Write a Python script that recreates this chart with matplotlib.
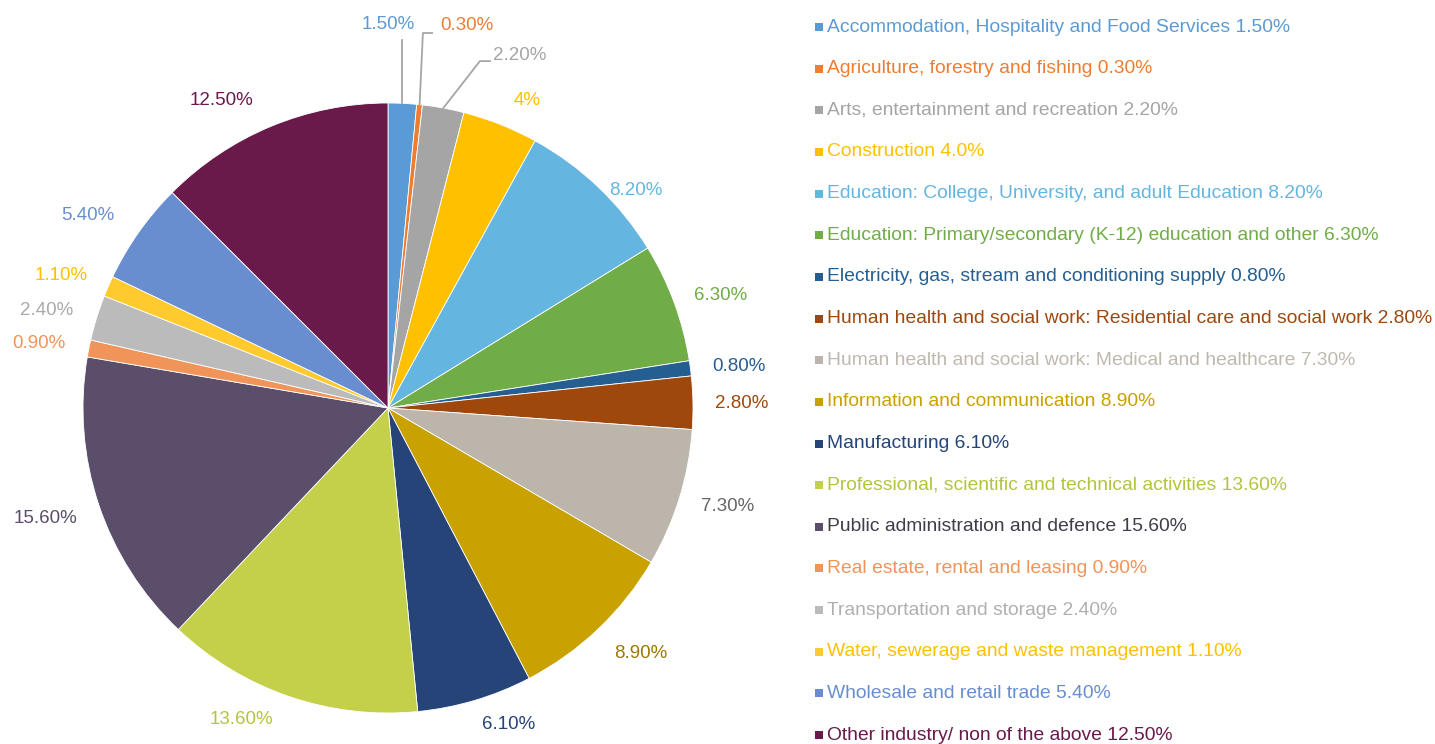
import numpy as np
import matplotlib
matplotlib.use("Agg")
import matplotlib.pyplot as plt

plt.rcParams['font.family'] = ['Liberation Sans', 'DejaVu Sans']

categories = [
    "Accommodation, Hospitality and Food Services",
    "Agriculture, forestry and fishing",
    "Arts, entertainment and recreation",
    "Construction",
    "Education: College, University, and adult Education",
    "Education: Primary/secondary (K-12) education and other",
    "Electricity, gas, stream and conditioning supply",
    "Human health and social work: Residential care and social work",
    "Human health and social work: Medical and healthcare",
    "Information and communication",
    "Manufacturing",
    "Professional, scientific and technical activities",
    "Public administration and defence",
    "Real estate, rental and leasing",
    "Transportation and storage",
    "Water, sewerage and waste management",
    "Wholesale and retail trade",
    "Other industry/ non of the above",
]
values = [1.5, 0.3, 2.2, 4.0, 8.2, 6.3, 0.8, 2.8, 7.3, 8.9, 6.1, 13.6, 15.6, 0.9, 2.4, 1.1, 5.4, 12.5]
pie_labels = ["1.50%", "0.30%", "2.20%", "4%", "8.20%", "6.30%", "0.80%", "2.80%", "7.30%",
              "8.90%", "6.10%", "13.60%", "15.60%", "0.90%", "2.40%", "1.10%", "5.40%", "12.50%"]
legend_values = ["1.50%", "0.30%", "2.20%", "4.0%", "8.20%", "6.30%", "0.80%", "2.80%", "7.30%",
                 "8.90%", "6.10%", "13.60%", "15.60%", "0.90%", "2.40%", "1.10%", "5.40%", "12.50%"]

colors = ["#5B9BD5", "#ED7D31", "#A5A5A5", "#FFC000", "#64B6E0", "#70AD47", "#255E91", "#9E480E",
          "#BBB5AC", "#C9A100", "#264478", "#C4D04A", "#5A4E6B", "#F0945A", "#BBBBBB", "#FFCA2E",
          "#698ED0", "#6A1A4A"]
label_colors = ["#5B9BD5", "#ED7D31", "#A5A5A5", "#FFC000", "#64B6E0", "#70AD47", "#255E91", "#9E480E",
                "#666666", "#9A7A00", "#264478", "#B4C440", "#5A4E6B", "#F0945A", "#AAAAAA", "#FFC000",
                "#698ED0", "#6A1A4A"]
legend_text_colors = ["#5B9BD5", "#ED7D31", "#A5A5A5", "#FFC000", "#64B6E0", "#70AD47", "#255E91", "#9E480E",
                      "#BFB9B0", "#C9A100", "#264478", "#B4C440", "#3F3D4A", "#F0945A", "#B0B0B0", "#FFC000",
                      "#698ED0", "#6A1A4A"]

# label placement: polar angle (deg) and distance (in radii) for each data label
label_angles = [90.0, 82.27, 73.43, 65.7, 41.3, 18.7, 6.8, 0.8, -16.2, -44.1, -69.1, -115.2,
                -162.1, 169.6, 164.0, 158.0, 147.4, 118.4]
label_dist = [1.256, 1.267, 1.2075, 1.108, 1.08, 1.15, 1.16, 1.16, 1.16, 1.155, 1.11, 1.13,
              1.18, 1.165, 1.165, 1.157, 1.17, 1.145]

W, H = 1435, 744
fig = plt.figure(figsize=(W / 100, H / 100), dpi=100)

# pie axes: centre at (388, 408) px from top-left, radius 305 px
R = 305.0
cx, cy = 388.0, H - 408.0
axw = 776.0
ax = fig.add_axes([0, 0, axw / W, 1])

wedges, _ = ax.pie(values, colors=colors, startangle=90, counterclock=False,
                   radius=1.0, wedgeprops=dict(edgecolor="white", linewidth=0.6))
ax.set_xlim(-cx / R, (axw - cx) / R)
ax.set_ylim(-cy / R, (H - cy) / R)
ax.set_aspect('auto')
ax.axis('off')

total = sum(values)
cum = np.cumsum([0] + values)
for i, w in enumerate(wedges):
    mid = 90 - 360 * (cum[i] + values[i] / 2) / total
    ang = label_angles[i]
    x = label_dist[i] * np.cos(np.radians(ang))
    y = label_dist[i] * np.sin(np.radians(ang))
    ha = 'left' if i in (1, 2) else 'center'
    ax.text(x, y, pie_labels[i], color=label_colors[i], fontsize=13.5,
            ha=ha, va='center')

    # leader lines for the three smallest top slices
    if i in (0, 1, 2):
        sx = np.cos(np.radians(mid))
        sy = np.sin(np.radians(mid))
        if i == 0:
            ax.plot([sx, sx], [sy, y - 0.05], color="#A5A5A5", lw=1.3)
        elif i == 1:
            ex, ey = x - 0.026, y - 0.026
            ax.plot([sx, ex - 0.03, ex], [sy, ey, ey], color="#A5A5A5", lw=1.3)
        else:
            ex, ey = x - 0.01, y - 0.02
            ax.plot([sx, ex - 0.033, ex], [sy, ey, ey], color="#A5A5A5", lw=1.3)

# legend drawn on a pixel-coordinate axes
lax = fig.add_axes([0, 0, 1, 1])
lax.set_xlim(0, W)
lax.set_ylim(H, 0)
lax.axis('off')
y0, dy = 27.0, 41.65
for i, (c, v) in enumerate(zip(categories, legend_values)):
    yy = y0 + i * dy
    lax.scatter([819], [yy], marker='s', s=36, color=colors[i], linewidths=0)
    lax.text(827, yy, f"{c} {v}", color=legend_text_colors[i], fontsize=13.85,
             ha='left', va='center')

fig.savefig("out.png", dpi=100)
